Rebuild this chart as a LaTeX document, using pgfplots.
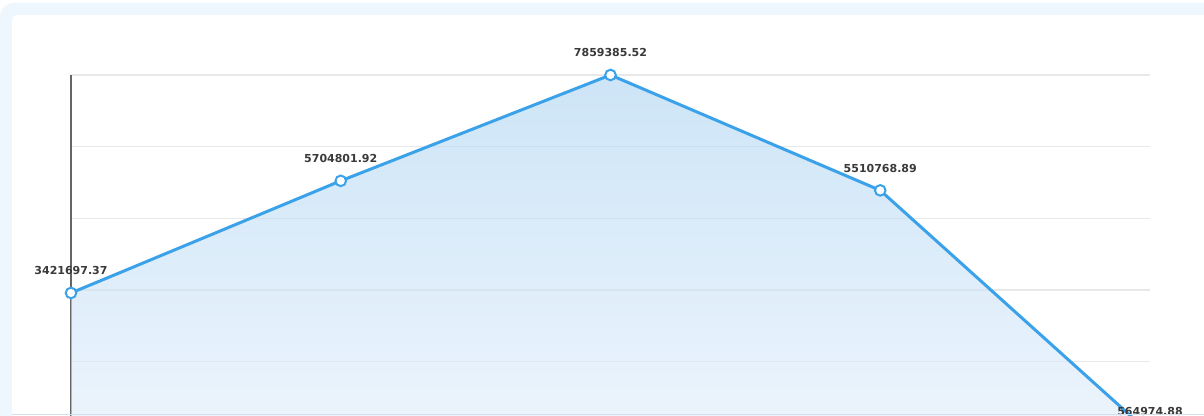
\documentclass[border=0pt]{standalone}
\usepackage{fontspec}
\setmainfont{DejaVu Sans}
\usepackage{pgfplots}
\pgfplotsset{compat=1.18}
\definecolor{bgblue}{HTML}{EEF7FE}
\definecolor{lineblue}{HTML}{3BA2EA}
\definecolor{gridc}{HTML}{E8E8E8}
\definecolor{axc}{HTML}{666666}
\definecolor{labc}{HTML}{3A3A3A}
\definecolor{areatop}{HTML}{ACD4F2}
\definecolor{areabot}{HTML}{E1EEFC}
\definecolor{botline}{HTML}{D3DEEE}
\begin{document}
\begin{tikzpicture}[x=1pt,y=1pt]
\useasboundingbox (0,0) rectangle (1204,415);
\clip (0,0) rectangle (1204,415);
\fill[white] (0,0) rectangle (1204,415);
\fill[bgblue, rounded corners=14pt] (0,-40) rectangle (1250,412);
\fill[white, rounded corners=5pt] (12,-40) rectangle (1250,400);
\begin{axis}[
  at={(71pt,-18.3pt)}, anchor=south west,
  scale only axis, width=1079pt, height=358.3pt,
  xmin=0, xmax=4,
  ymin=564974.88, ymax=7859385.52,
  axis y line*=left, axis x line*=bottom,
  x axis line style={draw=none},
  y axis line style={axc, line width=2.2pt},
  xtick=\empty,
  ytick={564974.88,2023857.008,3482739.136,4941621.264,6400503.392,7859385.52},
  yticklabel=\empty, scaled y ticks=false,
  major tick length=0pt,
  ymajorgrids, grid style={gridc, line width=1.6pt},
  clip=false,
]
\addplot[draw=none, top color=areatop, bottom color=areabot, fill opacity=0.6]
  coordinates {(0,3421697.37) (1,5704801.92) (2,7859385.52) (3,5510768.89) (4,564974.88) (0,564974.88)} -- cycle;
\addplot[lineblue, line width=3pt, mark=*, mark size=5.3pt,
  mark options={fill=white, draw=lineblue, line width=2pt},
  nodes near coords, point meta=explicit symbolic,
  every node near coord/.style={font=\fontsize{11}{13}\selectfont\bfseries, text=labc, anchor=south, inner sep=0pt, yshift=17pt}]
  coordinates {
  (0,3421697.37) [3421697.37]
  (1,5704801.92) [5704801.92]
  (2,7859385.52) [7859385.52]
  (3,5510768.89) [5510768.89]
  (4,564974.88) [564974.88]
  };
\end{axis}
\draw[botline, line width=1.2pt] (12,0.6) -- (1204,0.6);
\end{tikzpicture}
\end{document}
